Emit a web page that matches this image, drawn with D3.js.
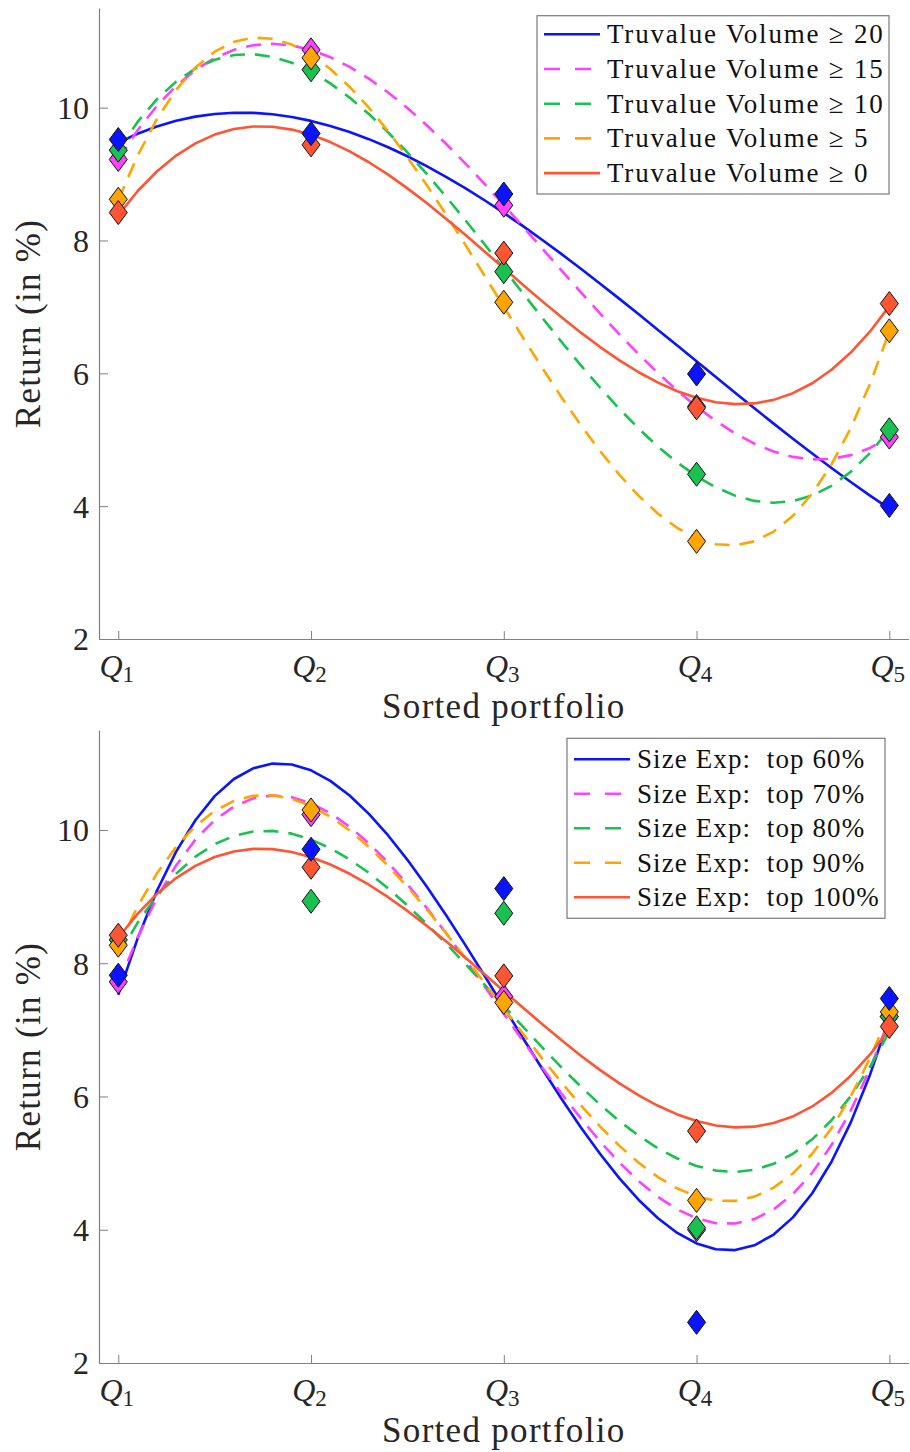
<!DOCTYPE html>
<html>
<head>
<meta charset="utf-8">
<script src="https://cdn.jsdelivr.net/npm/d3@7"></script>
<style>
  html, body { margin: 0; padding: 0; background: #ffffff; }
  svg { display: block; font-family: "Liberation Serif", "Times New Roman", serif; }
</style>
</head>
<body>
<svg id="chart" width="910" height="1452"></svg>
<script>
// ---------------- data ----------------
const quantiles = [1, 2, 3, 4, 5];
const quantileLabels = ["1", "2", "3", "4", "5"];   // shown as Q with subscript
const yTickValues = [2, 4, 6, 8, 10];

// Top panel: Truvalue volume filters
const topNames = ["Truvalue Volume \u2265 20", "Truvalue Volume \u2265 15", "Truvalue Volume \u2265 10", "Truvalue Volume \u2265 5", "Truvalue Volume \u2265 0"];
const tvVol20 = [9.52, 9.61, 8.70, 5.99, 4.01];
const tvVol15 = [9.22, 10.87, 8.53, 5.50, 5.04];
const tvVol10 = [9.36, 10.57, 7.53, 4.48, 5.15];
const tvVol5  = [8.62, 10.75, 7.07, 3.47, 6.64];
const tvVol0  = [8.42, 9.44, 7.81, 5.48, 7.05];

// Bottom panel: size exposure filters
const bottomNames = ["Size Exp:  top 60%", "Size Exp:  top 70%", "Size Exp:  top 80%", "Size Exp:  top 90%", "Size Exp:  top 100%"];
const sizeTop60  = [7.82, 9.71, 9.12, 2.61, 7.47];
const sizeTop70  = [7.72, 10.23, 7.50, 4.00, 7.20];
const sizeTop80  = [8.35, 8.93, 8.75, 4.03, 7.20];
const sizeTop90  = [8.27, 10.30, 7.41, 4.44, 7.27];
const sizeTop100 = [8.42, 9.44, 7.81, 5.48, 7.05];

// ---------------- styles ----------------
const colors = ["#0a14ff", "#ff40ff", "#19c150", "#ffa500", "#ff5533"];
const dashes = [null, "15,10", "15,10", "15,10", null];
const markerOrder = [1, 2, 3, 4, 0]; // drawing order of diamonds (last on top)

// least-squares cubic trend (as in the original figure)
function polyfit(xs, ys, deg) {
  const n = deg + 1;
  const A = Array.from({length: n}, () => new Array(n + 1).fill(0));
  for (let r = 0; r < n; r++) {
    for (let c = 0; c < n; c++) A[r][c] = d3.sum(xs, x => Math.pow(x, r + c));
    A[r][n] = d3.sum(xs.map((x, i) => ys[i] * Math.pow(x, r)));
  }
  for (let i = 0; i < n; i++) {
    let p = i;
    for (let k = i + 1; k < n; k++) if (Math.abs(A[k][i]) > Math.abs(A[p][i])) p = k;
    [A[i], A[p]] = [A[p], A[i]];
    for (let k = 0; k < n; k++) {
      if (k === i) continue;
      const f = A[k][i] / A[i][i];
      for (let c = i; c <= n; c++) A[k][c] -= f * A[i][c];
    }
  }
  return A.map((row, i) => row[n] / row[i]);
}
const evalPoly = (coef, x) => coef.reduce((s, c, i) => s + c * Math.pow(x, i), 0);

const svg = d3.select("#chart");

function drawPanel(cfg) {
  const x = d3.scaleLinear().domain([0.9, 5.1]).range([99, 908.6]);
  const y = d3.scaleLinear().domain([2, 11.5]).range([cfg.yBottom, cfg.yTop]);
  const g = svg.append("g");

  // axes
  const yAxis = d3.axisLeft(y).tickValues(yTickValues).tickSize(-9).tickSizeOuter(0).tickPadding(10);
  const ga = g.append("g").attr("transform", `translate(${x.range()[0]},0)`).call(yAxis);
  ga.selectAll("text").attr("font-size", 32).attr("fill", "#262626").attr("font-family", "Liberation Serif").attr("dy", "0.34em");

  const xAxis = d3.axisBottom(x).tickValues(quantiles).tickSize(-8).tickSizeOuter(0).tickFormat(() => "");
  const gx = g.append("g").attr("transform", `translate(0,${y.range()[0]})`).call(xAxis);
  gx.selectAll(".tick text").remove();
  gx.selectAll(".tick").each(function(d, i) {
    const t = d3.select(this).append("text")
      .attr("x", -2).attr("y", 38)
      .attr("text-anchor", "middle")
      .attr("fill", "#262626")
      .attr("font-family", "Liberation Serif");
    t.append("tspan").attr("font-style", "italic").attr("font-size", 32).text("Q");
    t.append("tspan").attr("font-size", 23).attr("dy", 5).text(quantileLabels[i]);
  });
  [ga, gx].forEach(a => {
    a.select(".domain").attr("stroke", "#808080").attr("stroke-width", 1.2);
    a.selectAll(".tick line").attr("stroke", "#808080").attr("stroke-width", 1);
  });

  // axis titles
  g.append("text")
    .attr("x", (x.range()[0] + x.range()[1]) / 2)
    .attr("y", y.range()[0] + 79)
    .attr("text-anchor", "middle").attr("font-size", 35).attr("fill", "#262626")
    .attr("letter-spacing", 1.3)
    .text("Sorted portfolio");
  const yc = (y.range()[0] + y.range()[1]) / 2;
  g.append("text")
    .attr("transform", `translate(40,${yc}) rotate(-90)`)
    .attr("text-anchor", "middle").attr("font-size", 35).attr("fill", "#262626")
    .attr("letter-spacing", 1.3)
    .text("Return (in %)");

  // fitted curves
  const sampleX = d3.range(0, 41).map(i => 1 + i * 0.1);
  const line = d3.line().x(d => x(d[0])).y(d => y(d[1]));
  cfg.series.forEach((vals, s) => {
    const coef = polyfit(quantiles, vals, 3);
    const pts = sampleX.map(v => [v, evalPoly(coef, v)]);
    g.append("path").datum(pts)
      .attr("d", line)
      .attr("fill", "none")
      .attr("stroke", colors[s])
      .attr("stroke-width", 2.6)
      .attr("stroke-dasharray", dashes[s])
      .attr("stroke-linejoin", "round");
  });

  // diamond markers
  const diamond = (cx, cy) => `M${cx},${cy - 12}L${cx + 9},${cy}L${cx},${cy + 12}L${cx - 9},${cy}Z`;
  markerOrder.forEach(s => {
    g.append("g").selectAll("path")
      .data(cfg.series[s].map((v, i) => [quantiles[i], v]))
      .join("path")
      .attr("d", d => diamond(x(d[0]), y(d[1])))
      .attr("fill", colors[s])
      .attr("stroke", "#111")
      .attr("stroke-width", 1);
  });

  // legend
  const L = cfg.legend;
  const lg = g.append("g");
  lg.append("rect")
    .attr("x", L.x).attr("y", L.y).attr("width", L.w).attr("height", L.h)
    .attr("fill", "#fff").attr("stroke", "#7a7a7a").attr("stroke-width", 1.2);
  cfg.names.forEach((name, s) => {
    const cy = L.y + L.first + s * L.step;
    lg.append("line")
      .attr("x1", L.x + 7).attr("x2", L.x + 63)
      .attr("y1", cy).attr("y2", cy)
      .attr("stroke", colors[s]).attr("stroke-width", 2.6)
      .attr("stroke-dasharray", dashes[s] ? "16,15" : null);
    lg.append("text")
      .attr("x", L.x + L.textDx).attr("y", cy + 9)
      .attr("font-size", 27).attr("fill", "#111")
      .attr("letter-spacing", L.ls)
      .attr("xml:space", "preserve")
      .style("white-space", "pre")
      .text(name);
  });
}

drawPanel({
  yBottom: 639, yTop: 8,
  series: [tvVol20, tvVol15, tvVol10, tvVol5, tvVol0],
  names: topNames,
  legend: {x: 537, y: 15.7, w: 352, h: 178.3, first: 18.6, step: 34.7, textDx: 70, ls: 1.8}
});
drawPanel({
  yBottom: 1363, yTop: 730,
  series: [sizeTop60, sizeTop70, sizeTop80, sizeTop90, sizeTop100],
  names: bottomNames,
  legend: {x: 567, y: 738.3, w: 318, h: 180, first: 21, step: 34.5, textDx: 70, ls: 1.1}
});
</script>
</body>
</html>
